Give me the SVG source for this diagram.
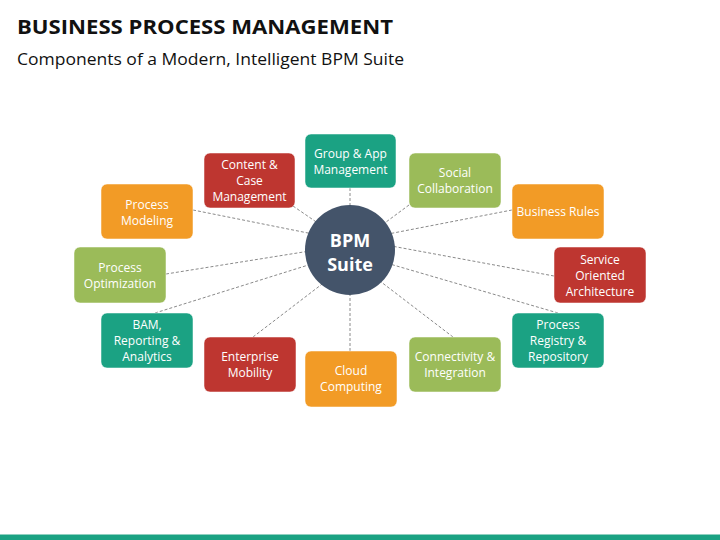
<svg xmlns="http://www.w3.org/2000/svg" width="720" height="540" viewBox="0 0 720 540">
<style>
.title{font-family:"Open Sans","Liberation Sans",sans-serif;font-weight:bold;font-size:19px;fill:#111}
.sub{font-family:"Open Sans","Liberation Sans",sans-serif;font-size:16px;fill:#111}
.box{stroke:#ffffff;stroke-opacity:0.5;stroke-width:1}
.lbl{font-family:"Open Sans","Liberation Sans",sans-serif;font-size:12px;fill:#ffffff;text-anchor:middle}
.hub{font-family:"Open Sans","Liberation Sans",sans-serif;font-size:18px;font-weight:bold;fill:#ffffff;text-anchor:middle}
.teal{fill:#1BA283}.red{fill:#BE3630}.orange{fill:#F29B26}.green{fill:#9BBB59}
.conn line{stroke:#8a8a8a;stroke-width:1;stroke-dasharray:3 2}
</style>
<rect x="0" y="0" width="720" height="540" fill="#ffffff"/>
<text class="title" x="17" y="34" textLength="376" lengthAdjust="spacingAndGlyphs">BUSINESS PROCESS MANAGEMENT</text>
<text class="sub" x="17" y="65" textLength="387" lengthAdjust="spacingAndGlyphs">Components of a Modern, Intelligent BPM Suite</text>
<g id="connectors" class="conn">
<line x1="350" y1="188" x2="350" y2="215"/>
<line x1="293" y1="206" x2="325" y2="228"/>
<line x1="409" y1="205" x2="378" y2="228"/>
<line x1="193" y1="210" x2="318" y2="235"/>
<line x1="512" y1="210" x2="383" y2="235"/>
<line x1="166" y1="274" x2="316" y2="250"/>
<line x1="554" y1="276" x2="386" y2="245"/>
<line x1="155" y1="313" x2="318" y2="262"/>
<line x1="558" y1="313" x2="383" y2="262"/>
<line x1="253" y1="337" x2="330" y2="278"/>
<line x1="453" y1="337" x2="372" y2="275"/>
<line x1="350" y1="351" x2="350" y2="285"/>
</g>
<g id="hub">
<circle cx="350" cy="250" r="45" fill="#44546A"/>
<text class="hub" x="350" y="247">BPM</text>
<text class="hub" x="350" y="271">Suite</text>
</g>
<g id="group-app">
<rect class="box teal" x="305" y="134" width="91" height="54" rx="6"/>
<text class="lbl" x="350.5" y="158">Group &amp; App</text>
<text class="lbl" x="350.5" y="174">Management</text>
</g>
<g id="content-case">
<rect class="box red" x="204" y="153" width="91" height="55" rx="6"/>
<text class="lbl" x="249.5" y="169">Content &amp;</text>
<text class="lbl" x="249.5" y="185">Case</text>
<text class="lbl" x="249.5" y="201">Management</text>
</g>
<g id="social">
<rect class="box green" x="409" y="153" width="92" height="55" rx="6"/>
<text class="lbl" x="455" y="177">Social</text>
<text class="lbl" x="455" y="193">Collaboration</text>
</g>
<g id="process-modeling">
<rect class="box orange" x="101" y="184" width="92" height="55" rx="6"/>
<text class="lbl" x="147" y="209">Process</text>
<text class="lbl" x="147" y="225">Modeling</text>
</g>
<g id="business-rules">
<rect class="box orange" x="512" y="184" width="92" height="55" rx="6"/>
<text class="lbl" x="558" y="216">Business Rules</text>
</g>
<g id="process-optimization">
<rect class="box green" x="74" y="247" width="92" height="56" rx="6"/>
<text class="lbl" x="120" y="272">Process</text>
<text class="lbl" x="120" y="288">Optimization</text>
</g>
<g id="soa">
<rect class="box red" x="554" y="247" width="92" height="56" rx="6"/>
<text class="lbl" x="600" y="264">Service</text>
<text class="lbl" x="600" y="280">Oriented</text>
<text class="lbl" x="600" y="296">Architecture</text>
</g>
<g id="bam">
<rect class="box teal" x="101" y="313" width="92" height="55" rx="6"/>
<text class="lbl" x="147" y="329">BAM,</text>
<text class="lbl" x="147" y="345">Reporting &amp;</text>
<text class="lbl" x="147" y="361">Analytics</text>
</g>
<g id="process-registry">
<rect class="box teal" x="512" y="313" width="92" height="55" rx="6"/>
<text class="lbl" x="558" y="329">Process</text>
<text class="lbl" x="558" y="345">Registry &amp;</text>
<text class="lbl" x="558" y="361">Repository</text>
</g>
<g id="enterprise-mobility">
<rect class="box red" x="204" y="337" width="92" height="55" rx="6"/>
<text class="lbl" x="250" y="361">Enterprise</text>
<text class="lbl" x="250" y="377">Mobility</text>
</g>
<g id="connectivity">
<rect class="box green" x="409" y="337" width="92" height="55" rx="6"/>
<text class="lbl" x="455" y="361">Connectivity &amp;</text>
<text class="lbl" x="455" y="377">Integration</text>
</g>
<g id="cloud">
<rect class="box orange" x="305" y="351" width="92" height="56" rx="6"/>
<text class="lbl" x="351" y="375">Cloud</text>
<text class="lbl" x="351" y="391">Computing</text>
</g>
<rect x="0" y="534" width="720" height="6" fill="#1BA283"/>
<rect x="0" y="534" width="720" height="1" fill="#8fd0c0"/>
</svg>
